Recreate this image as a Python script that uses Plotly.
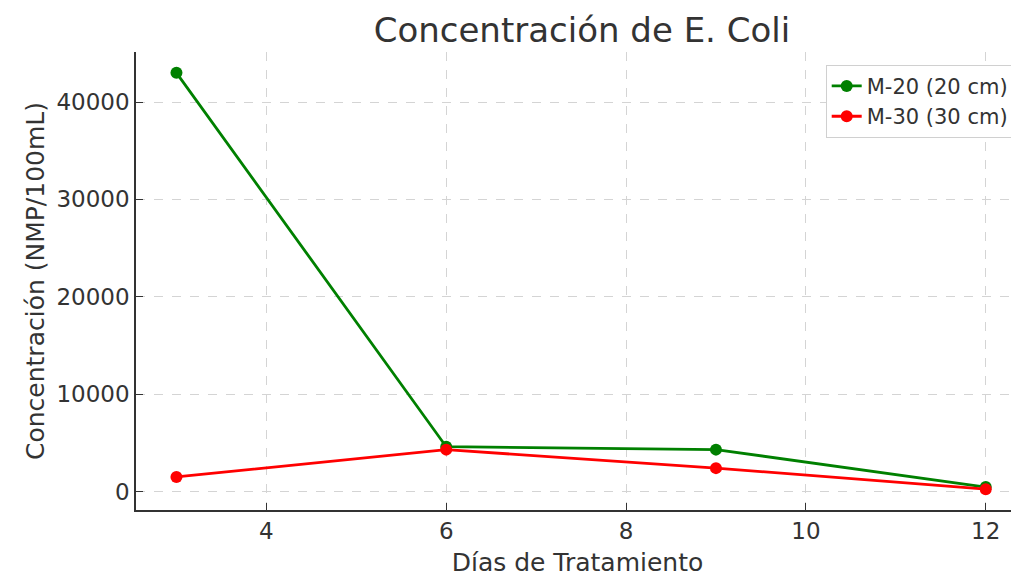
import plotly.graph_objects as go

dias = [3, 6, 9, 12]
m20 = [43000, 4600, 4300, 460]
m30 = [1500, 4300, 2400, 240]
series_names = ["M-20 (20 cm)", "M-30 (30 cm)"]
x_ticks = [4, 6, 8, 10, 12]
y_ticks = [0, 10000, 20000, 30000, 40000]

font_family = "DejaVu Sans"
text_color = "#333333"

fig = go.Figure()
fig.add_trace(go.Scatter(x=dias, y=m20, mode="lines+markers", name=series_names[0],
                         line=dict(color="green", width=2.8), marker=dict(color="green", size=12)))
fig.add_trace(go.Scatter(x=dias, y=m30, mode="lines+markers", name=series_names[1],
                         line=dict(color="red", width=2.8), marker=dict(color="red", size=12)))

axis_common = dict(
    showgrid=True, gridcolor="#d4d4d4", griddash="dash", gridwidth=1,
    showline=True, linecolor="#333333", linewidth=1.5,
    ticks="inside", ticklen=7, tickcolor="#333333", tickwidth=1.2,
    tickfont=dict(family=font_family, size=23, color=text_color),
    zeroline=False,
)

fig.update_layout(
    width=1011, height=569,
    paper_bgcolor="white", plot_bgcolor="white",
    margin=dict(l=128, r=0, t=44, b=67),
    title=dict(text="Concentración de E. Coli", xref="paper", x=0.505, xanchor="center", y=0.961, yanchor="middle",
               font=dict(family=font_family, size=34, color=text_color)),
    xaxis=dict(range=[2.55, 12.37], tickvals=x_ticks,
               title=dict(text="Días de Tratamiento", font=dict(family=font_family, size=25, color=text_color), standoff=11),
               **axis_common),
    yaxis=dict(range=[-1900, 45140], tickvals=y_ticks, ticktext=[str(v) for v in y_ticks],
               title=dict(text="Concentración (NMP/100mL)", font=dict(family=font_family, size=25, color=text_color), standoff=5),
               **axis_common),
    legend=dict(x=0.994, xanchor="right", y=0.972, yanchor="top",
                bgcolor="white", bordercolor="#d0d0d0", borderwidth=1,
                font=dict(family=font_family, size=21, color=text_color)),
    showlegend=True,
)

fig.write_html("out.html")
